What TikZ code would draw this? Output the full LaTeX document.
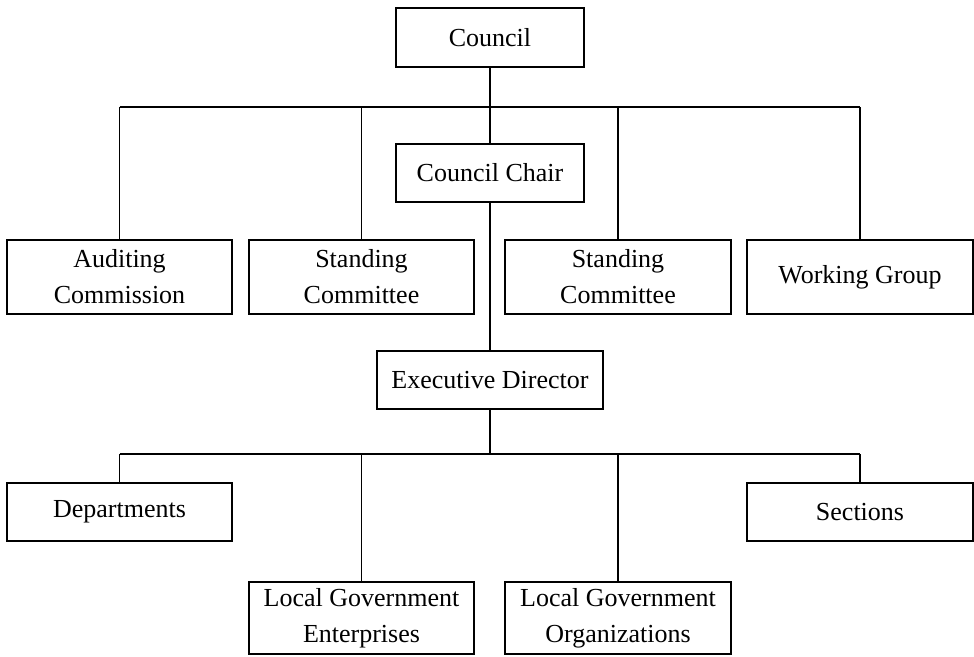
\documentclass[tikz,border=0pt]{standalone}
\usepackage{fontspec}
\setmainfont{Liberation Serif}
\begin{document}
\begin{tikzpicture}[x=1pt,y=-1pt,
  box/.style={draw, line width=1.5pt, align=center, inner sep=0pt,
    font=\fontsize{26}{36}\selectfont},
  link/.style={line width=1.4pt}]
\useasboundingbox (0,0) rectangle (974,656);
\node[box, minimum width=188pt, minimum height=59pt] (council) at (490,37.5) {Council};
\node[box, minimum width=188pt, minimum height=58pt] (chair) at (490,173) {Council Chair};
\node[box, minimum width=225pt, minimum height=74pt] (aud) at (119.5,277) {Auditing\\Commission};
\node[box, minimum width=225pt, minimum height=74pt] (sc1) at (361.5,277) {Standing\\Committee};
\node[box, minimum width=226pt, minimum height=74pt] (sc2) at (618,277) {Standing\\Committee};
\node[box, minimum width=226pt, minimum height=74pt] (wg) at (860,277) {Working Group};
\node[box, minimum width=226pt, minimum height=58pt] (exec) at (490,380) {Executive Director};
\node[box, minimum width=225pt, minimum height=58pt] (dep) at (119.5,512) {Departments};
\node[box, minimum width=226pt, minimum height=58pt] (sec) at (860,512) {Sections};
\node[box, minimum width=225pt, minimum height=72pt] (lge) at (361.5,618) {Local Government\\Enterprises};
\node[box, minimum width=226pt, minimum height=72pt] (lgo) at (618,618) {Local Government\\Organizations};
\coordinate (busA) at (490,107);
\coordinate (busB) at (490,454);
\draw[link] (council.south) -- (chair.north);
\draw[link] (aud.north |- busA) -- (wg.north |- busA);
\foreach \n in {aud,sc1,sc2,wg} \draw[link] (\n.north |- busA) -- (\n.north);
\draw[link] (chair.south) -- (exec.north);
\draw[link] (exec.south) -- (busB);
\draw[link] (dep.north |- busB) -- (sec.north |- busB);
\foreach \n in {dep,lge,lgo,sec} \draw[link] (\n.north |- busB) -- (\n.north);
\end{tikzpicture}
\end{document}
